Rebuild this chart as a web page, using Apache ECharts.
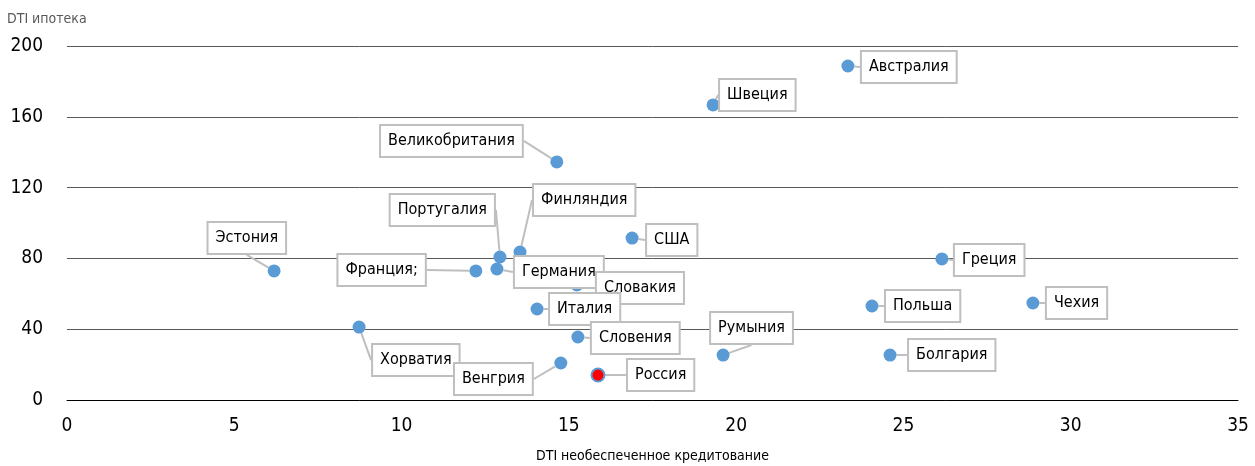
<!DOCTYPE html>
<html>
<head>
    <meta charset="utf-8">
    <title>DTI</title>
    <style>
        html, body { margin: 0; padding: 0; background: #fff; }
        #chart { width: 1255px; height: 466px; }
    </style>
</head>
<body>
    <div id="chart"></div>
    <script src="https://cdn.jsdelivr.net/npm/echarts@6/dist/echarts.min.js"></script>
    <script>
        // страны и значения DTI
        var countries = ['Австралия', 'Швеция', 'Великобритания', 'США', 'Финляндия', 'Португалия', 'Германия',
            'Франция;', 'Эстония', 'Словакия', 'Италия', 'Словения', 'Хорватия', 'Венгрия', 'Россия',
            'Румыния', 'Греция', 'Польша', 'Чехия', 'Болгария'];
        var dtiUnsecured = [23.34, 19.31, 14.64, 16.89, 13.54, 12.94, 12.85, 12.22, 6.19, 15.24, 14.05, 15.27,
            8.73, 14.76, 15.87, 19.61, 26.15, 24.06, 28.87, 24.6];
        var dtiMortgage = [188.7, 166.7, 134.5, 91.5, 83.6, 80.8, 74.0, 72.9, 72.9, 65.0, 51.4, 35.6,
            41.2, 20.9, 14.1, 25.4, 79.7, 53.1, 54.8, 25.4];
        var xTicks = [0, 5, 10, 15, 20, 25, 30, 35];
        var yTicks = [0, 40, 80, 120, 160, 200];

        // выноски: к какому краю рамки привязка, смещение от точки (px)
        var labelShift = [
            ['left', 14, 1], ['left', 7, -10], ['right', -35, -21], ['left', 15, 2], ['left', 14, -52],
            ['right', -6, -47], ['left', 18, 3], ['right', -51, -1], ['right', 11, -33], ['left', 20, 3],
            ['left', 13, 0], ['left', 14, 1], ['left', 14, 33], ['right', -29, 16], ['left', 30, 0],
            ['left', -12, -27], ['left', 13, 1], ['left', 14, 0], ['left', 14, 0], ['left', 19, 0]
        ];

        var font = '"DejaVu Sans Condensed", "Liberation Sans Narrow", sans-serif';
        var chart = echarts.init(document.getElementById('chart'));

        var points = countries.map(function (name, i) {
            var item = { name: name, value: [dtiUnsecured[i], dtiMortgage[i]] };
            if (name === 'Россия') {
                item.itemStyle = { color: '#ff0000', borderColor: '#5b9bd5', borderWidth: 2 };
            }
            return item;
        });

        chart.setOption({
            animation: false,
            grid: { left: 67, right: 17, top: 46, bottom: 66, outerBoundsMode: 'none', containLabel: false },
            xAxis: {
                type: 'value',
                min: xTicks[0], max: xTicks[xTicks.length - 1], interval: 5,
                name: 'DTI необеспеченное кредитование',
                nameLocation: 'middle', nameGap: 49,
                nameTextStyle: { fontFamily: font, fontSize: 14, color: '#000' },
                axisLine: { lineStyle: { color: '#000', width: 1 } },
                axisTick: { show: false },
                splitLine: { show: false },
                axisLabel: { fontFamily: font, fontSize: 19, color: '#000', margin: 17 }
            },
            yAxis: {
                type: 'value',
                min: yTicks[0], max: yTicks[yTicks.length - 1], interval: 40,
                name: 'DTI ипотека',
                nameLocation: 'end', nameGap: 20,
                nameTextStyle: { fontFamily: font, fontSize: 14, color: '#595959', align: 'left', padding: [0, 0, 0, -60] },
                axisLine: { show: false },
                axisTick: { show: false },
                splitLine: { lineStyle: { color: '#595959', width: 1 } },
                axisLabel: { fontFamily: font, fontSize: 19, color: '#000', margin: 24 }
            },
            series: [{
                type: 'scatter',
                symbolSize: 13,
                itemStyle: { color: '#5b9bd5', opacity: 1 },
                data: points,
                label: {
                    show: true,
                    position: 'inside',
                    formatter: '{b}',
                    fontFamily: font,
                    fontSize: 16,
                    color: '#000',
                    backgroundColor: '#fff',
                    borderColor: '#bfbfbf',
                    borderWidth: 2,
                    padding: [8, 7, 6, 7]
                },
                labelLine: {
                    show: true,
                    lineStyle: { color: '#bfbfbf', width: 2 }
                },
                labelLayout: function (p) {
                    var s = labelShift[p.dataIndex];
                    return { align: s[0], verticalAlign: 'middle', dx: s[1], dy: s[2], hideOverlap: false };
                },
                emphasis: { disabled: true }
            }]
        });
    </script>
</body>
</html>
